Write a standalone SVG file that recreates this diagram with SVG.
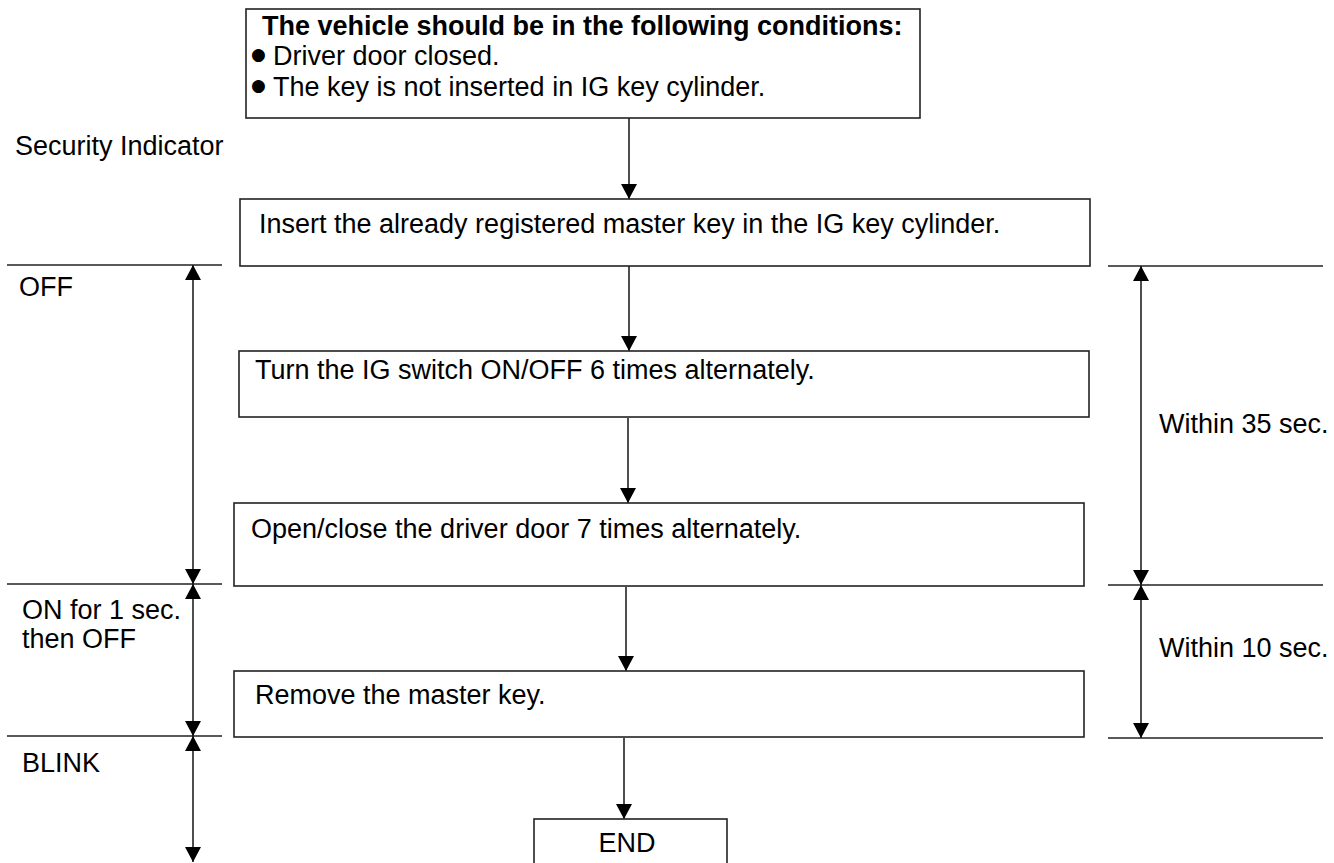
<svg xmlns="http://www.w3.org/2000/svg" width="1334" height="863" viewBox="0 0 1334 863">
<defs>
<marker id="ah" viewBox="0 0 15 16" markerWidth="15" markerHeight="16" refX="15" refY="8" orient="auto-start-reverse" markerUnits="userSpaceOnUse">
<path d="M0,0 L15,8 L0,16 Z" fill="#000"/>
</marker>
<style>
text{font-family:"Liberation Sans",Arial,sans-serif;font-size:27px;fill:#000}
.b{font-weight:bold}
.box{fill:#fff;stroke:#222;stroke-width:1.6}
.ln{stroke:#222;stroke-width:1.6;fill:none}
.fl{stroke:#222;stroke-width:1.6;fill:none;marker-end:url(#ah)}
.dim{stroke:#222;stroke-width:1.6;fill:none;marker-start:url(#ah);marker-end:url(#ah)}
.bul{font-family:"DejaVu Sans",sans-serif;font-size:17px}
</style>
</defs>
<rect width="1334" height="863" fill="#fff"/>
<g id="connectors">
<line class="fl" x1="629" y1="118" x2="629" y2="199"/>
<line class="fl" x1="629" y1="266" x2="629" y2="351"/>
<line class="fl" x1="628" y1="418" x2="628" y2="503"/>
<line class="fl" x1="626" y1="587" x2="626" y2="671"/>
<line class="fl" x1="624" y1="738" x2="624" y2="819"/>
</g>
<g id="conditions">
<rect class="box" x="246" y="9" width="674" height="109"/>
<text class="b" x="262" y="35">The vehicle should be in the following conditions:</text>
<text class="bul" x="251" y="60">●</text>
<text x="273" y="65">Driver door closed.</text>
<text class="bul" x="251" y="91">●</text>
<text x="273" y="96">The key is not inserted in IG key cylinder.</text>
</g>
<g id="step1">
<rect class="box" x="240" y="199" width="850" height="67"/>
<text x="259" y="233">Insert the already registered master key in the IG key cylinder.</text>
</g>
<g id="step2">
<rect class="box" x="239" y="351" width="850" height="66"/>
<text x="255" y="379">Turn the IG switch ON/OFF 6 times alternately.</text>
</g>
<g id="step3">
<rect class="box" x="234" y="503" width="850" height="83"/>
<text x="251" y="538">Open/close the driver door 7 times alternately.</text>
</g>
<g id="step4">
<rect class="box" x="234" y="671" width="850" height="66"/>
<text x="255" y="704">Remove the master key.</text>
</g>
<g id="end">
<rect class="box" x="534" y="819" width="193" height="70"/>
<text x="627" y="852" text-anchor="middle">END</text>
</g>
<g id="indicator">
<text x="15" y="155">Security Indicator</text>
<line class="ln" x1="7" y1="265" x2="222" y2="265"/>
<line class="ln" x1="7" y1="584" x2="222" y2="584"/>
<line class="ln" x1="7" y1="736" x2="222" y2="736"/>
<line class="dim" x1="193" y1="265" x2="193" y2="584"/>
<line class="dim" x1="193" y1="584" x2="193" y2="736"/>
<line class="dim" x1="193" y1="736" x2="193" y2="862"/>
<text x="19" y="296">OFF</text>
<text x="22" y="619">ON for 1 sec.</text>
<text x="22" y="648">then OFF</text>
<text x="22" y="772">BLINK</text>
</g>
<g id="timing">
<line class="ln" x1="1108" y1="266" x2="1323" y2="266"/>
<line class="ln" x1="1108" y1="585" x2="1323" y2="585"/>
<line class="ln" x1="1108" y1="738" x2="1323" y2="738"/>
<line class="dim" x1="1141" y1="266" x2="1141" y2="585"/>
<line class="dim" x1="1141" y1="585" x2="1141" y2="738"/>
<text x="1159" y="433">Within 35 sec.</text>
<text x="1159" y="657">Within 10 sec.</text>
</g>
</svg>
